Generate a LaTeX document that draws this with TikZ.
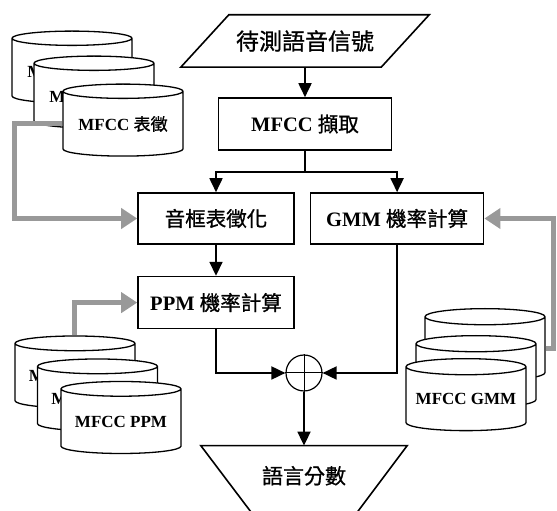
\documentclass[tikz,border=0pt]{standalone}
\usepackage{fontspec}
\setmainfont{Liberation Serif}
\newfontfamily\cjk{Noto Sans CJK TC}[FakeBold=0.9]
\newcommand{\zh}[1]{{\cjk\mdseries #1}}
\usetikzlibrary{shapes.geometric, arrows.meta, positioning}
\tikzset{
    box/.style={draw, line width=1.6pt, fill=white, align=center, minimum height=52pt, font=\fontsize{20.5}{24}\selectfont\bfseries},
    drum/.style={draw, line width=1.3pt, fill=white, cylinder, shape border rotate=90, aspect=0.16, minimum width=120pt, minimum height=72pt, inner sep=0pt, font=\fontsize{17}{20}\selectfont\bfseries},
    arrow/.style={-{Triangle[length=14pt,width=13pt]}, line width=1.8pt},
    outline/.style={line width=1.6pt},
    feed/.style={-{Triangle[length=16pt,width=20pt]}, line width=5pt, black!40}
}

\begin{document}
\begin{tikzpicture}[x=1pt, y=1pt]
    \useasboundingbox (0,0) rectangle (557,511);
    % flow
    \node [minimum width=200pt, minimum height=52pt, font=\fontsize{23}{27}\selectfont] (signal) at (305,470) {\zh{待測語音信號}};
    \draw [outline] ([xshift=-24pt]signal.south west) -- ([xshift=24pt]signal.north west) -- ([xshift=24pt]signal.north east) -- ([xshift=-24pt]signal.south east) -- cycle;
    \node [box, minimum width=173pt, below=30pt of signal] (mfcc) {MFCC \zh{擷取}};
    \node [box, minimum width=156pt, minimum height=51pt] (frame) at (216,292.5) {\zh{音框表徵化}};
    \node [box, minimum width=173pt, minimum height=51pt, right=15pt of frame] (gmm) {GMM \zh{機率計算}};
    \node [box, minimum width=156pt, below=31pt of frame] (ppm) {PPM \zh{機率計算}};
    \node [draw, circle, line width=1.2pt, minimum size=36pt] (sum) at (304,138) {};
    \draw [line width=1pt] (sum.north) -- (sum.south) (sum.west) -- (sum.east);
    \node [minimum width=156pt, minimum height=60pt, below=54pt of sum, font=\fontsize{21}{25}\selectfont] (score) {\zh{語言分數}};
    \draw [outline] ([xshift=-25pt]score.north west) -- ([xshift=25pt]score.north east) -- ++(-54,-72) -- ++(-98,0) -- cycle;

    % model stores
    \node [drum] (tfA) at (72,440) {MFCC \zh{表徵}};
    \node [drum] (tfB) at (94,415) {MFCC \zh{表徵}};
    \node [drum] (tfC) at (123,387) {MFCC \zh{表徵}};
    \node [drum] (ppA) at (75,135) {MFCC PPM};
    \node [drum] (ppB) at (97.5,112) {MFCC PPM};
    \node [drum] (ppC) at (121,89.5) {MFCC PPM};
    \node [drum] (gmA) at (485,162) {MFCC GMM};
    \node [drum] (gmB) at (476,135) {MFCC GMM};
    \node [drum] (gmC) at (466,112) {MFCC GMM};

    % connectors
    \draw [arrow] (signal.south) -- (mfcc.north);
    \draw [outline] (mfcc.south) -- ++(0,-21) coordinate (split);
    \draw [arrow] (split) -| (frame.north);
    \draw [arrow] (split) -| (gmm.north);
    \draw [arrow] (frame.south) -- (ppm.north);
    \draw [arrow] (ppm.south) |- (sum.west);
    \draw [arrow] (gmm.south) |- (sum.east);
    \draw [arrow] (sum.south) -- (score.north);
    \draw [feed] (tfC.west) -- ++(-48,0) |- (frame.west);
    \draw [feed] (ppA.north) |- (ppm.west);
    \draw [feed] (gmA.east) -- ++(8,0) |- (gmm.east);
\end{tikzpicture}
\end{document}
